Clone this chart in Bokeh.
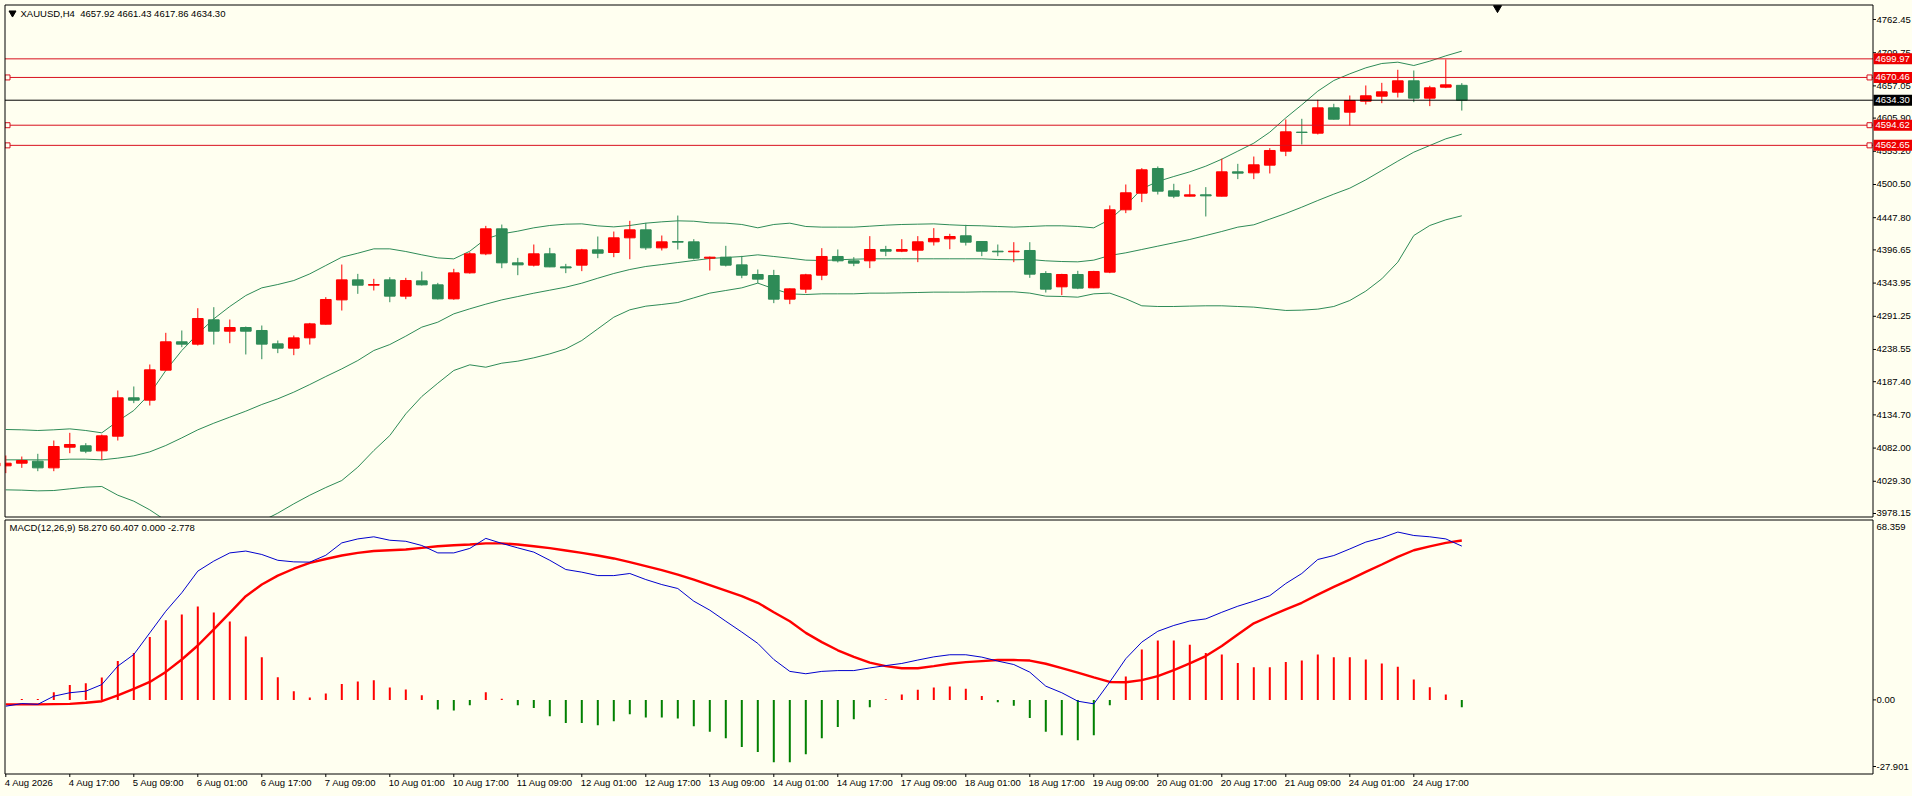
from bokeh.plotting import figure
from bokeh.layouts import column
from bokeh.models import ColumnDataSource, Range1d, GlobalInlineStyleSheet
from bokeh.embed import file_html
from bokeh.resources import INLINE
from bokeh.core.properties import value

# ---------------- data ----------------
symbol = "XAUUSD,H4"
last_ohlc = [4657.92, 4661.43, 4617.86, 4634.30]

opens = [4053.8, 4058.0, 4061.2, 4050.6, 4083.4, 4085.6, 4077.6, 4100.9, 4161.8, 4158.1,
         4205.7, 4250.7, 4247.0, 4285.6, 4267.6, 4273.4, 4268.7, 4247.5, 4240.6, 4257.0,
         4278.7, 4317.3, 4349.1, 4340.6, 4349.1, 4323.2, 4347.5, 4341.2, 4318.9, 4360.2,
         4390.4, 4430.1, 4376.1, 4372.4, 4390.4, 4369.7, 4372.4, 4396.7, 4392.5, 4415.8,
         4428.5, 4399.9, 4410.0, 4409.4, 4383.5, 4385.1, 4372.9, 4357.6, 4356.0, 4318.4,
         4334.3, 4356.5, 4386.2, 4379.3, 4379.3, 4397.3, 4394.6, 4396.2, 4409.5, 4414.2,
         4419.0, 4410.0, 4394.6, 4393.6, 4395.7, 4359.2, 4338.0, 4357.6, 4336.4, 4361.3,
         4460.3, 4486.7, 4525.9, 4490.4, 4482.0, 4484.1, 4482.0, 4520.6, 4519.0, 4531.2,
         4553.4, 4583.6, 4582.0, 4622.2, 4615.3, 4632.8, 4640.7, 4647.1, 4665.1, 4637.6,
         4655.0, 4657.92]
highs = [4070.2, 4068.6, 4072.9, 4094.0, 4106.2, 4089.8, 4103.5, 4173.4, 4179.8, 4214.7,
         4265.0, 4268.7, 4304.1, 4305.7, 4286.1, 4275.0, 4276.6, 4252.8, 4260.7, 4280.8,
         4321.6, 4373.4, 4358.6, 4350.7, 4353.3, 4352.3, 4362.3, 4344.3, 4366.6, 4393.0,
         4434.8, 4436.9, 4384.0, 4405.2, 4399.9, 4374.5, 4398.3, 4417.9, 4425.8, 4442.8,
         4439.6, 4419.5, 4451.2, 4413.7, 4386.1, 4403.1, 4387.2, 4365.5, 4365.0, 4335.5,
         4358.7, 4399.4, 4397.3, 4385.1, 4418.5, 4403.1, 4413.7, 4418.5, 4431.2, 4422.2,
         4436.5, 4410.5, 4405.2, 4408.9, 4408.9, 4362.9, 4358.7, 4363.4, 4363.4, 4467.2,
         4500.5, 4526.4, 4529.1, 4501.6, 4500.5, 4496.3, 4541.3, 4533.3, 4544.9, 4558.2,
         4603.7, 4604.8, 4634.9, 4628.6, 4641.8, 4657.7, 4661.9, 4682.6, 4681.5, 4657.2,
         4699.0, 4661.43]
lows = [4042.2, 4050.6, 4045.3, 4045.3, 4073.9, 4073.9, 4063.3, 4094.0, 4153.3, 4149.6,
        4205.2, 4242.2, 4244.8, 4246.4, 4248.5, 4230.6, 4223.1, 4232.7, 4229.5, 4246.4,
        4278.0, 4300.4, 4326.9, 4332.2, 4313.6, 4318.4, 4340.1, 4317.9, 4317.5, 4359.0,
        4388.3, 4367.6, 4356.5, 4370.3, 4369.2, 4359.7, 4362.9, 4383.5, 4385.1, 4381.9,
        4396.7, 4395.7, 4397.3, 4381.4, 4363.9, 4370.3, 4351.7, 4343.9, 4312.1, 4310.5,
        4328.0, 4348.6, 4376.7, 4370.8, 4367.7, 4386.7, 4393.1, 4377.2, 4403.6, 4397.8,
        4403.6, 4386.7, 4386.7, 4377.2, 4352.3, 4329.0, 4324.8, 4334.3, 4335.9, 4359.7,
        4455.0, 4472.5, 4484.6, 4478.8, 4481.5, 4449.7, 4481.5, 4509.0, 4509.0, 4518.0,
        4545.5, 4564.0, 4579.9, 4603.7, 4594.2, 4627.5, 4629.6, 4638.6, 4631.2, 4624.9,
        4653.4, 4617.86]
closes = [4058.0, 4062.3, 4050.6, 4084.5, 4087.7, 4077.1, 4101.4, 4161.8, 4158.1, 4206.2,
          4250.7, 4247.0, 4287.7, 4267.6, 4273.4, 4267.6, 4247.0, 4240.6, 4257.0, 4279.2,
          4317.9, 4349.1, 4340.6, 4341.7, 4323.2, 4348.0, 4341.2, 4318.9, 4360.2, 4390.4,
          4430.1, 4376.1, 4372.9, 4390.4, 4369.7, 4368.1, 4396.7, 4391.4, 4415.8, 4428.5,
          4399.9, 4409.4, 4408.9, 4383.5, 4385.1, 4372.4, 4356.5, 4350.2, 4318.4, 4334.8,
          4357.1, 4386.2, 4379.3, 4375.6, 4397.3, 4394.6, 4397.3, 4409.5, 4414.8, 4417.9,
          4408.9, 4394.6, 4393.6, 4394.6, 4358.1, 4334.3, 4357.6, 4335.9, 4362.4, 4460.3,
          4487.3, 4523.8, 4489.9, 4482.0, 4484.1, 4482.5, 4520.6, 4518.5, 4531.7, 4554.5,
          4584.1, 4583.1, 4622.2, 4604.2, 4633.9, 4641.3, 4647.6, 4665.1, 4637.6, 4654.0,
          4658.7, 4634.30]

bb_upper = [4111.5, 4111.0, 4109.9, 4111.0, 4112.5, 4109.9, 4106.2, 4124.7, 4141.7, 4168.1,
            4205.2, 4236.9, 4263.4, 4287.2, 4306.8, 4324.2, 4336.4, 4341.7, 4348.0, 4358.6,
            4371.9, 4385.1, 4391.4, 4398.3, 4398.3, 4394.1, 4388.8, 4384.0, 4382.4, 4394.6,
            4414.2, 4422.1, 4426.4, 4431.7, 4435.4, 4437.5, 4438.0, 4434.8, 4433.2, 4435.4,
            4439.1, 4441.2, 4442.8, 4442.2, 4439.6, 4439.1, 4437.0, 4431.7, 4437.0, 4439.1,
            4433.8, 4432.8, 4432.8, 4432.8, 4434.3, 4435.9, 4437.0, 4437.5, 4438.0, 4436.5,
            4435.4, 4434.9, 4433.8, 4432.8, 4433.8, 4434.9, 4434.9, 4433.8, 4431.7, 4444.9,
            4467.2, 4493.6, 4505.3, 4513.2, 4520.6, 4529.6, 4540.7, 4553.4, 4566.1, 4583.6,
            4606.3, 4627.0, 4648.7, 4665.6, 4676.2, 4685.7, 4692.6, 4694.7, 4689.4, 4696.3,
            4704.8, 4712.2]
bb_middle = [4063.3, 4063.3, 4063.3, 4063.3, 4064.4, 4064.4, 4063.3, 4066.0, 4069.7, 4076.0,
             4086.1, 4098.2, 4111.0, 4121.5, 4131.1, 4140.6, 4151.2, 4160.2, 4170.8, 4182.9,
             4195.6, 4207.8, 4221.0, 4236.9, 4246.4, 4259.7, 4274.0, 4281.9, 4295.1, 4303.1,
             4310.5, 4317.3, 4322.6, 4327.9, 4332.7, 4337.5, 4343.8, 4351.7, 4359.2, 4365.5,
             4370.3, 4373.4, 4376.6, 4379.8, 4383.0, 4384.6, 4386.1, 4388.8, 4386.2, 4383.5,
             4380.4, 4379.8, 4380.9, 4381.9, 4382.5, 4382.5, 4382.5, 4382.5, 4382.5, 4382.5,
             4382.5, 4382.5, 4381.4, 4380.9, 4381.4, 4379.3, 4378.2, 4377.7, 4380.4, 4387.8,
             4392.0, 4397.3, 4402.6, 4407.9, 4413.2, 4419.5, 4425.9, 4432.8, 4436.5, 4445.5,
             4454.5, 4464.5, 4475.1, 4485.2, 4494.7, 4507.9, 4522.7, 4537.6, 4551.8, 4562.4,
             4573.0, 4580.4]
bb_lower = [4015.7, 4015.2, 4014.1, 4014.6, 4017.3, 4019.9, 4021.0, 4007.2, 3997.7, 3983.9,
            3967.0, 3959.6, 3958.5, 3955.9, 3955.4, 3956.9, 3965.9, 3978.7, 3993.5, 4007.2,
            4019.4, 4030.5, 4051.7, 4078.1, 4101.9, 4136.4, 4163.9, 4185.0, 4205.2, 4214.2,
            4210.4, 4216.8, 4220.0, 4225.3, 4231.6, 4239.5, 4252.8, 4271.3, 4289.8, 4301.5,
            4307.3, 4310.0, 4313.1, 4320.5, 4328.0, 4332.2, 4336.4, 4343.9, 4334.9, 4326.9,
            4325.8, 4326.9, 4326.9, 4326.9, 4328.0, 4328.0, 4328.5, 4329.0, 4329.6, 4329.6,
            4329.6, 4330.1, 4330.1, 4330.1, 4328.0, 4323.2, 4322.7, 4321.6, 4326.9, 4328.0,
            4319.0, 4307.9, 4306.8, 4306.8, 4307.4, 4307.9, 4307.9, 4306.8, 4305.8, 4303.1,
            4300.5, 4301.0, 4302.6, 4306.8, 4316.3, 4331.2, 4350.7, 4377.2, 4419.5, 4435.4,
            4444.4, 4450.8]

macd_main = [-2.4, -1.4, -1.7, 1.4, 2.7, 3.3, 5.8, 12.8, 17.2, 25.4,
             33.6, 40.6, 48.8, 52.6, 55.7, 56.4, 55.1, 52.9, 52.3, 52.2,
             54.8, 59.5, 61.0, 61.8, 60.5, 60.1, 58.5, 55.7, 55.7, 57.4,
             61.2, 59.3, 57.6, 56.0, 52.9, 49.4, 48.4, 47.1, 47.1, 47.9,
             45.6, 43.7, 42.2, 37.4, 34.0, 29.8, 25.7, 21.4, 15.3, 10.8,
             9.9, 10.8, 11.1, 11.1, 12.1, 13.0, 13.8, 15.1, 16.3, 17.1,
             17.1, 16.2, 14.7, 13.4, 10.5, 5.2, 2.7, -0.5, -1.5, 6.8,
             15.6, 21.9, 26.0, 28.2, 29.9, 30.7, 33.2, 35.5, 37.4, 39.5,
             44.1, 47.9, 53.2, 54.7, 57.2, 59.8, 61.4, 63.6, 62.3, 61.8,
             61.0, 58.27]
macd_signal = [-1.7, -1.7, -1.7, -1.6, -1.5, -1.1, -0.5, 1.7, 4.2, 6.8,
               10.6, 15.3, 20.6, 26.7, 33.0, 39.3, 43.7, 47.1, 49.7, 51.9,
               53.4, 54.7, 55.7, 56.4, 56.7, 57.0, 57.6, 58.2, 58.6, 58.9,
               59.3, 59.3, 58.9, 58.2, 57.5, 56.6, 55.7, 54.7, 53.6, 52.2,
               50.7, 49.2, 47.5, 45.6, 43.5, 41.4, 39.3, 36.8, 33.2, 29.8,
               25.4, 21.9, 18.8, 16.3, 14.1, 12.8, 12.0, 12.0, 12.8, 13.7,
               14.3, 14.7, 15.1, 15.1, 14.9, 13.7, 12.0, 10.3, 8.5, 6.8,
               6.7, 7.5, 9.0, 11.3, 13.8, 16.6, 20.4, 24.8, 29.0, 31.7,
               34.3, 36.8, 39.9, 42.8, 45.6, 48.5, 51.3, 54.2, 56.7, 58.2,
               59.5, 60.407]
macd_hist = [0.0, 0.3, 0.3, 2.9, 5.6, 6.3, 8.5, 14.7, 17.8, 23.8,
             30.2, 32.4, 35.4, 33.1, 29.7, 24.0, 16.2, 8.6, 3.3, 0.9,
             2.4, 6.0, 7.0, 7.4, 4.7, 3.9, 1.8, -3.6, -4.0, -2.0,
             2.9, 0.4, -2.0, -3.1, -6.2, -8.8, -8.8, -9.6, -8.1, -5.4,
             -6.7, -6.7, -7.1, -10.0, -12.1, -14.5, -17.9, -19.8, -23.6, -23.6,
             -20.6, -14.5, -10.3, -7.3, -2.8, 0.2, 2.0, 3.8, 4.7, 5.1,
             4.2, 1.5, -0.9, -2.2, -6.9, -12.1, -13.4, -15.3, -13.4, -2.0,
             8.9, 19.1, 22.5, 22.5, 20.9, 17.8, 17.2, 14.0, 12.4, 12.4,
             14.4, 14.9, 17.2, 16.2, 16.2, 15.3, 13.8, 12.6, 7.7, 4.8,
             2.0, -2.778]
macd_name = "MACD(12,26,9)"
macd_readout = [58.270, 60.407, 0.000, -2.778]

level_lines = [4699.97, 4670.46, 4594.62, 4562.65]
anchored_levels = [4670.46, 4594.62, 4562.65]
bid_price = 4634.30

price_ticks = [4762.45, 4709.75, 4657.05, 4605.90, 4553.20, 4500.50, 4447.80, 4396.65,
               4343.95, 4291.25, 4238.55, 4187.40, 4134.70, 4082.00, 4029.30, 3978.15]
macd_scale_max, macd_scale_min = 68.359, -27.901

time_tick_bars = [0, 4, 8, 12, 16, 20, 24, 28, 32, 36, 40, 44, 48, 52, 56, 60, 64, 68, 72, 76, 80, 84, 88]
time_tick_labels = ["4 Aug 2026", "4 Aug 17:00", "5 Aug 09:00", "6 Aug 01:00", "6 Aug 17:00",
                    "7 Aug 09:00", "10 Aug 01:00", "10 Aug 17:00", "11 Aug 09:00", "12 Aug 01:00",
                    "12 Aug 17:00", "13 Aug 09:00", "14 Aug 01:00", "14 Aug 17:00", "17 Aug 09:00",
                    "18 Aug 01:00", "18 Aug 17:00", "19 Aug 09:00", "20 Aug 01:00", "20 Aug 17:00",
                    "21 Aug 09:00", "24 Aug 01:00", "24 Aug 17:00"]

# ---------------- style / geometry ----------------
BG = "#FFFFF0"
BULL = "#FF0000"
BEAR = "#2E8B57"
BAND = "#2E8B57"
LEVEL_RED = "#D8101E"
TAG_RED = "#EE0000"
HIST_UP = "#FF0000"
HIST_DN = "#008000"
MACD_BLUE = "#0000CD"
FONT = value("Liberation Sans")
FS = value("9.5px")

W, H_MAIN, H_MACD = 1912, 518, 278
PPB = 16.0                     # pixels per bar
BAR0_PX = 5.3                  # page x of the first bar
XS = -BAR0_PX / PPB            # data x at page x = 0
XE = XS + W / PPB
PPX = 1.5877                   # price units per pixel
PRICE_AT_0 = 4792.62           # price at page y = 0
MACD_AT_519 = macd_scale_max
MPX = (macd_scale_max - macd_scale_min) / (773 - 519)

L, R = 4.5, 1872.5             # panel border columns
P_TOP, P_BOT = 4.5, 516.5
M_TOP, M_BOT = 519.5, 773.5


def xd(px):
    return XS + px / PPB


def yp(py):
    return PRICE_AT_0 - py * PPX


def ym(py):
    return MACD_AT_519 - (py - 519) * MPX


def make_fig(height, y_lo, y_hi, x_range=None):
    f = figure(width=W, height=height,
               x_range=x_range if x_range is not None else Range1d(XS, XE),
               y_range=Range1d(y_lo, y_hi),
               x_axis_location=None, y_axis_location=None,
               output_backend="svg", toolbar_location=None,
               min_border=0, outline_line_color=None,
               background_fill_color=BG, border_fill_color=BG)
    f.grid.grid_line_color = None
    return f


def txt(f, xs, ys, texts, color="black", align="left", x_offset=0):
    f.text(x=xs, y=ys, text=texts, text_font=FONT, text_font_size=FS, text_color=color,
           text_baseline="middle", text_align=align, x_offset=x_offset)


n = len(opens)
idx = list(range(n))

# ---------------- price panel ----------------
p = make_fig(H_MAIN, yp(H_MAIN), yp(0))

src = ColumnDataSource(dict(x=idx, h=highs, l=lows,
                            top=[max(o, c) for o, c in zip(opens, closes)],
                            bot=[min(o, c) for o, c in zip(opens, closes)],
                            col=[BULL if c >= o else BEAR for o, c in zip(opens, closes)]))

p.line(idx, bb_upper, line_color=BAND, line_width=1)
p.line(idx, bb_middle, line_color=BAND, line_width=1)
p.line(idx, bb_lower, line_color=BAND, line_width=1)
p.segment(x0="x", y0="l", x1="x", y1="h", line_color="col", line_width=1, source=src)
p.vbar(x="x", width=0.67, top="top", bottom="bot", fill_color="col", line_color="col",
       line_width=1, source=src)

# horizontal levels and bid line
for lvl in level_lines:
    p.segment(x0=[xd(L)], x1=[xd(R)], y0=[lvl], y1=[lvl], line_color=LEVEL_RED, line_width=1)
p.segment(x0=[xd(L)], x1=[xd(R)], y0=[bid_price], y1=[bid_price], line_color="black", line_width=1)
p.scatter(x=[xd(7)] * len(anchored_levels) + [xd(R - 3.5)] * len(anchored_levels),
          y=anchored_levels + anchored_levels, marker="square", size=5,
          fill_color=BG, line_color=LEVEL_RED, line_width=1)

# masks outside the panel, then the panel border
p.quad(left=[xd(0)], right=[xd(L)], bottom=[yp(H_MAIN)], top=[yp(0)], fill_color=BG, line_color=None)
p.quad(left=[xd(0)], right=[xd(W)], bottom=[yp(H_MAIN)], top=[yp(P_BOT)], fill_color=BG, line_color=None)
p.quad(left=[xd(L)], right=[xd(R)], bottom=[yp(P_BOT)], top=[yp(P_TOP)],
       fill_color=None, line_color="black", line_width=1)

# right price scale
p.segment(x0=[xd(R)] * len(price_ticks), x1=[xd(R + 3)] * len(price_ticks),
          y0=price_ticks, y1=price_ticks, line_color="black", line_width=1)
txt(p, [xd(1876)] * len(price_ticks), price_ticks, [f"{t:.2f}" for t in price_ticks])

# price tags
tag_vals = level_lines + [bid_price]
tag_cols = [TAG_RED] * len(level_lines) + ["black"]
p.quad(left=[xd(1873)] * len(tag_vals), right=[xd(W)] * len(tag_vals),
       bottom=[v - 5.5 * PPX for v in tag_vals], top=[v + 5.5 * PPX for v in tag_vals],
       fill_color=tag_cols, line_color=None)
txt(p, [xd(1875)] * len(tag_vals), tag_vals, [f"{v:.2f}" for v in tag_vals], color="white")

# header
p.scatter(x=[xd(12)], y=[yp(12.5)], marker="inverted_triangle", size=7, color="black")
txt(p, [xd(20)], [yp(12.7)],
    [symbol + "\u00a0 " + " ".join(f"{v:.2f}" for v in last_ohlc)])
# chart-shift marker
p.scatter(x=[xd(1497)], y=[yp(7.5)], marker="inverted_triangle", size=8, color="black")

# ---------------- MACD panel ----------------
m = make_fig(H_MACD, ym(796), ym(518), x_range=p.x_range)

hsrc = ColumnDataSource(dict(x=idx, z=[0.0] * n, h=macd_hist,
                             col=[HIST_UP if v > 0 else HIST_DN for v in macd_hist]))
m.segment(x0="x", y0="z", x1="x", y1="h", line_color="col", line_width=2, source=hsrc)
m.line(idx, macd_signal, line_color="#FF0000", line_width=2.4)
m.line(idx, macd_main, line_color=MACD_BLUE, line_width=1)

m.quad(left=[xd(0)], right=[xd(L)], bottom=[ym(796)], top=[ym(518)], fill_color=BG, line_color=None)
m.quad(left=[xd(L)], right=[xd(R)], bottom=[ym(M_BOT)], top=[ym(M_TOP)],
       fill_color=None, line_color="black", line_width=1)

# MACD scale
m_ticks = [0.0, ym(766)]
m.segment(x0=[xd(R)] * 2, x1=[xd(R + 3)] * 2, y0=m_ticks, y1=m_ticks, line_color="black")
txt(m, [xd(1876)] * 3, [ym(526), 0.0, ym(766)],
    [f"{macd_scale_max:.3f}", "0.00", f"{macd_scale_min:.3f}"])
txt(m, [xd(9)], [ym(527)], [macd_name + " " + " ".join(f"{v:.3f}" for v in macd_readout)])

# time scale
nt = len(time_tick_bars)
m.segment(x0=time_tick_bars, x1=time_tick_bars, y0=[ym(M_BOT)] * nt, y1=[ym(M_BOT + 3)] * nt,
          line_color="black", line_width=1)
txt(m, time_tick_bars, [ym(782)] * nt, time_tick_labels, x_offset=-1)

layout = column(p, m, spacing=0, stylesheets=[GlobalInlineStyleSheet(
    css="html,body{margin:0;padding:0;background:#FFFFF0;overflow:hidden;}")])

open("out.html", "w").write(file_html(layout, INLINE))
